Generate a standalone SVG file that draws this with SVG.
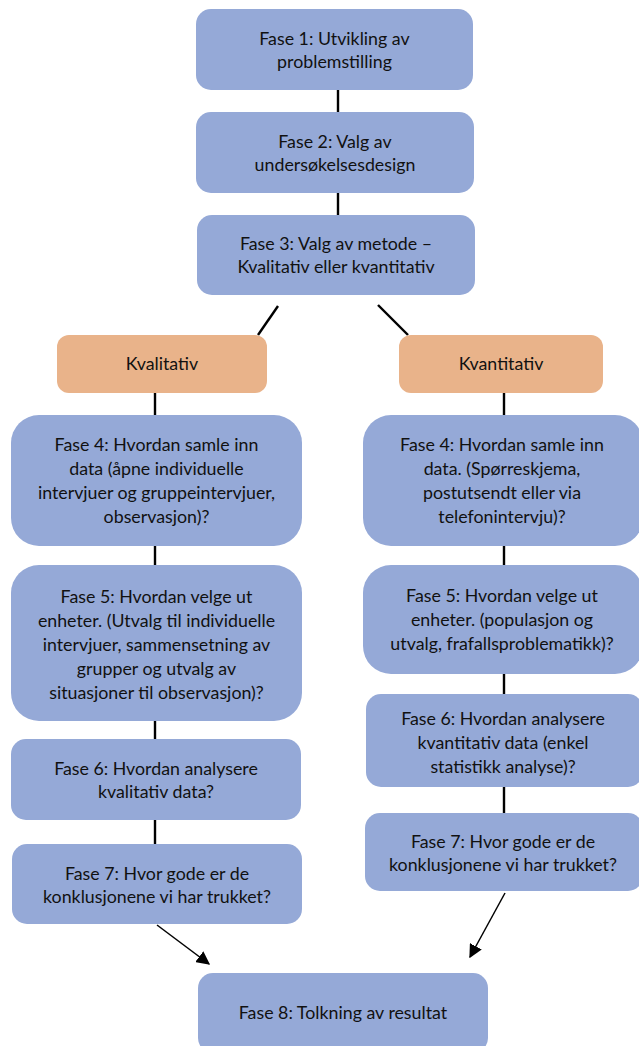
<svg xmlns="http://www.w3.org/2000/svg" width="639" height="1046" viewBox="0 0 639 1046">
<defs>
<style>
.b{fill:#95a9d7;}
.o{fill:#e9b38a;}
text{font-family:Lato,"Open Sans",sans-serif;font-size:17.8px;fill:#111;text-anchor:middle;}
.c{stroke:#000;stroke-width:2.4;fill:none;}
</style>
<marker id="ah2" viewBox="0 0 10 10" refX="9" refY="5" markerWidth="9" markerHeight="9" orient="auto"><path d="M0,0L10,5L0,10z" fill="#000"/></marker>
</defs>
<rect width="639" height="1046" fill="#fff"/>
<g id="connectors">
<line class="c" x1="338" y1="90" x2="338" y2="112"/>
<line class="c" x1="338" y1="193" x2="338" y2="215"/>
<line class="c" x1="278" y1="306" x2="258" y2="335"/>
<line class="c" x1="378" y1="305" x2="408" y2="335"/>
<line class="c" x1="155" y1="393" x2="155" y2="415"/>
<line class="c" x1="504" y1="393" x2="504" y2="415"/>
<line class="c" x1="155" y1="546" x2="155" y2="565"/>
<line class="c" x1="504" y1="546" x2="504" y2="565"/>
<line class="c" x1="155" y1="721" x2="155" y2="739"/>
<line class="c" x1="504" y1="674" x2="504" y2="694"/>
<line class="c" x1="155" y1="820" x2="155" y2="844"/>
<line class="c" x1="504" y1="787" x2="504" y2="813"/>
<line stroke="#000" stroke-width="1.5" x1="157" y1="925" x2="209" y2="964" marker-end="url(#ah2)"/>
<line stroke="#000" stroke-width="1.5" x1="505" y1="893" x2="470" y2="957" marker-end="url(#ah2)"/>
</g>
<g id="n1"><rect class="b" x="196" y="9" width="277" height="81" rx="15"/><text x="334.5" y="45">Fase 1: Utvikling av</text><text x="334.5" y="68">problemstilling</text></g>
<g id="n2"><rect class="b" x="196" y="112" width="278" height="81" rx="15"/><text x="335" y="148">Fase 2: Valg av</text><text x="335" y="171">undersøkelsesdesign</text></g>
<g id="n3"><rect class="b" x="197" y="215" width="278" height="80" rx="15"/><text x="336" y="250">Fase 3: Valg av metode –</text><text x="336" y="273">Kvalitativ eller kvantitativ</text></g>
<g id="kval"><rect class="o" x="57" y="335" width="210" height="58" rx="12"/><text x="162" y="370">Kvalitativ</text></g>
<g id="kvant"><rect class="o" x="399" y="335" width="204" height="58" rx="12"/><text x="501" y="370">Kvantitativ</text></g>
<g id="l4"><rect class="b" x="11" y="415" width="291" height="131" rx="28"/><text x="156.5" y="451">Fase 4: Hvordan samle inn</text><text x="156.5" y="475">data (åpne individuelle</text><text x="156.5" y="499">intervjuer og gruppeintervjuer,</text><text x="156.5" y="523">observasjon)?</text></g>
<g id="r4"><rect class="b" x="363" y="415" width="280" height="131" rx="28"/><text x="502" y="451">Fase 4: Hvordan samle inn</text><text x="502" y="475">data. (Spørreskjema,</text><text x="502" y="499">postutsendt eller via</text><text x="502" y="523">telefonintervju)?</text></g>
<g id="l5"><rect class="b" x="11" y="565" width="291" height="156" rx="28"/><text x="156.5" y="603">Fase 5: Hvordan velge ut</text><text x="156.5" y="627">enheter. (Utvalg til individuelle</text><text x="156.5" y="651">intervjuer, sammensetning av</text><text x="156.5" y="675">grupper og utvalg av</text><text x="156.5" y="699">situasjoner til observasjon)?</text></g>
<g id="r5"><rect class="b" x="363" y="565" width="280" height="109" rx="28"/><text x="502" y="602">Fase 5: Hvordan velge ut</text><text x="502" y="626">enheter. (populasjon og</text><text x="502" y="650">utvalg, frafallsproblematikk)?</text></g>
<g id="l6"><rect class="b" x="11" y="739" width="290" height="81" rx="15"/><text x="156" y="775">Fase 6: Hvordan analysere</text><text x="156" y="798">kvalitativ data?</text></g>
<g id="r6"><rect class="b" x="366" y="694" width="277" height="93" rx="15"/><text x="503" y="725">Fase 6: Hvordan analysere</text><text x="503" y="749">kvantitativ data (enkel</text><text x="503" y="773">statistikk analyse)?</text></g>
<g id="l7"><rect class="b" x="12" y="844" width="290" height="80" rx="15"/><text x="157" y="880">Fase 7: Hvor gode er de</text><text x="157" y="903">konklusjonene vi har trukket?</text></g>
<g id="r7"><rect class="b" x="365" y="813" width="278" height="78" rx="15"/><text x="503" y="848">Fase 7: Hvor gode er de</text><text x="503" y="871">konklusjonene vi har trukket?</text></g>
<g id="f8"><rect class="b" x="198" y="973" width="290" height="80" rx="15"/><text x="343" y="1019">Fase 8: Tolkning av resultat</text></g>
</svg>
